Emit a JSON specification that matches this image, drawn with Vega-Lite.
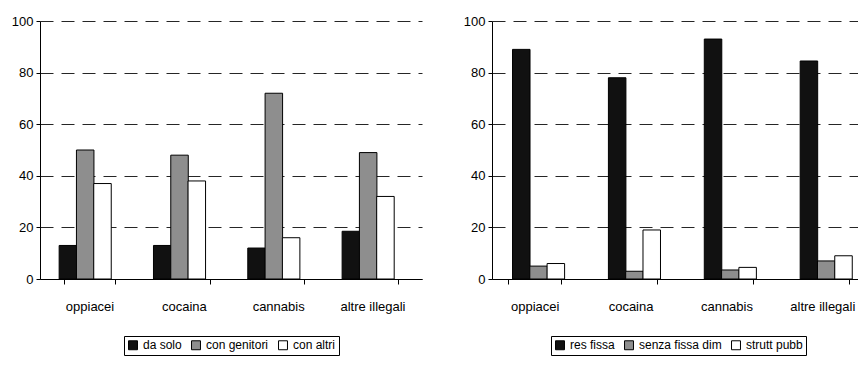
{
  "$schema": "https://vega.github.io/schema/vega-lite/v6.json",
  "background": "white",
  "padding": {"left": 11, "top": 15, "right": 0, "bottom": 5},
  "config": {
    "font": "Liberation Sans",
    "view": {"stroke": null},
    "scale": {"offsetBandPaddingInner": 0, "offsetBandPaddingOuter": 0},
    "axis": {"labelFont": "Liberation Sans", "labelFontSize": 13, "labelColor": "black", "domainColor": "black", "tickColor": "black", "gridColor": "black", "gridDash": [13, 8], "gridOpacity": 0.85},
    "legend": {"labelFont": "Liberation Sans", "labelFontSize": 12, "labelColor": "black", "layout": {"bottom": {"anchor": "middle"}}}
  },
  "datasets": {
    "left": [
      {"cat": "oppiacei", "serie": "da solo", "v": 13},
      {"cat": "oppiacei", "serie": "con genitori", "v": 50},
      {"cat": "oppiacei", "serie": "con altri", "v": 37},
      {"cat": "cocaina", "serie": "da solo", "v": 13},
      {"cat": "cocaina", "serie": "con genitori", "v": 48},
      {"cat": "cocaina", "serie": "con altri", "v": 38},
      {"cat": "cannabis", "serie": "da solo", "v": 12},
      {"cat": "cannabis", "serie": "con genitori", "v": 72},
      {"cat": "cannabis", "serie": "con altri", "v": 16},
      {"cat": "altre illegali", "serie": "da solo", "v": 18.5},
      {"cat": "altre illegali", "serie": "con genitori", "v": 49},
      {"cat": "altre illegali", "serie": "con altri", "v": 32}
    ],
    "right": [
      {"cat": "oppiacei", "serie": "res fissa", "v": 89},
      {"cat": "oppiacei", "serie": "senza fissa dim", "v": 5},
      {"cat": "oppiacei", "serie": "strutt pubb", "v": 6},
      {"cat": "cocaina", "serie": "res fissa", "v": 78},
      {"cat": "cocaina", "serie": "senza fissa dim", "v": 3},
      {"cat": "cocaina", "serie": "strutt pubb", "v": 19},
      {"cat": "cannabis", "serie": "res fissa", "v": 93},
      {"cat": "cannabis", "serie": "senza fissa dim", "v": 3.5},
      {"cat": "cannabis", "serie": "strutt pubb", "v": 4.5},
      {"cat": "altre illegali", "serie": "res fissa", "v": 84.5},
      {"cat": "altre illegali", "serie": "senza fissa dim", "v": 7},
      {"cat": "altre illegali", "serie": "strutt pubb", "v": 9}
    ]
  },
  "hconcat": [
    {
      "width": 382,
      "height": 258,
      "data": {"name": "left"},
      "mark": {"type": "bar", "stroke": "black", "strokeWidth": 1, "width": 17.5},
      "encoding": {
        "x": {"field": "cat", "type": "nominal", "sort": ["oppiacei", "cocaina", "cannabis", "altre illegali"], "scale": {"paddingInner": 0.45, "paddingOuter": 0.25}, "axis": {"title": null, "labelAngle": 0, "labelPadding": 16, "tickBand": "extent", "tickSize": 5}},
        "xOffset": {"field": "serie", "type": "nominal", "sort": ["da solo", "con genitori", "con altri"], "scale": {"paddingInner": 0, "paddingOuter": 0}},
        "y": {"field": "v", "type": "quantitative", "scale": {"domain": [0, 100]}, "axis": {"title": null, "values": [0, 20, 40, 60, 80, 100], "tickSize": 4, "labelPadding": 3}},
        "color": {"field": "serie", "type": "nominal", "sort": ["da solo", "con genitori", "con altri"], "scale": {"domain": ["da solo", "con genitori", "con altri"], "range": ["#111111", "#8e8e8e", "#ffffff"]}, "legend": {"title": null, "orient": "bottom", "direction": "horizontal", "symbolType": "square", "symbolSize": 80, "symbolStrokeColor": "black", "symbolStrokeWidth": 1, "strokeColor": "black", "padding": 3, "columnPadding": 7, "offset": 23}}
      }
    },
    {
      "width": 373,
      "height": 258,
      "data": {"name": "right"},
      "mark": {"type": "bar", "stroke": "black", "strokeWidth": 1, "width": 17.5},
      "encoding": {
        "x": {"field": "cat", "type": "nominal", "sort": ["oppiacei", "cocaina", "cannabis", "altre illegali"], "scale": {"paddingInner": 0.45, "paddingOuter": 0.17}, "axis": {"title": null, "labelAngle": 0, "labelPadding": 16, "tickBand": "extent", "tickSize": 5}},
        "xOffset": {"field": "serie", "type": "nominal", "sort": ["res fissa", "senza fissa dim", "strutt pubb"], "scale": {"paddingInner": 0, "paddingOuter": 0}},
        "y": {"field": "v", "type": "quantitative", "scale": {"domain": [0, 100]}, "axis": {"title": null, "values": [0, 20, 40, 60, 80, 100], "tickSize": 4, "labelPadding": 3}},
        "color": {"field": "serie", "type": "nominal", "sort": ["res fissa", "senza fissa dim", "strutt pubb"], "scale": {"domain": ["res fissa", "senza fissa dim", "strutt pubb"], "range": ["#111111", "#8e8e8e", "#ffffff"]}, "legend": {"title": null, "orient": "bottom", "direction": "horizontal", "symbolType": "square", "symbolSize": 80, "symbolStrokeColor": "black", "symbolStrokeWidth": 1, "strokeColor": "black", "padding": 3, "columnPadding": 7, "offset": 23}}
      }
    }
  ],
  "spacing": 41,
  "resolve": {"scale": {"color": "independent"}, "legend": {"color": "independent"}}
}
